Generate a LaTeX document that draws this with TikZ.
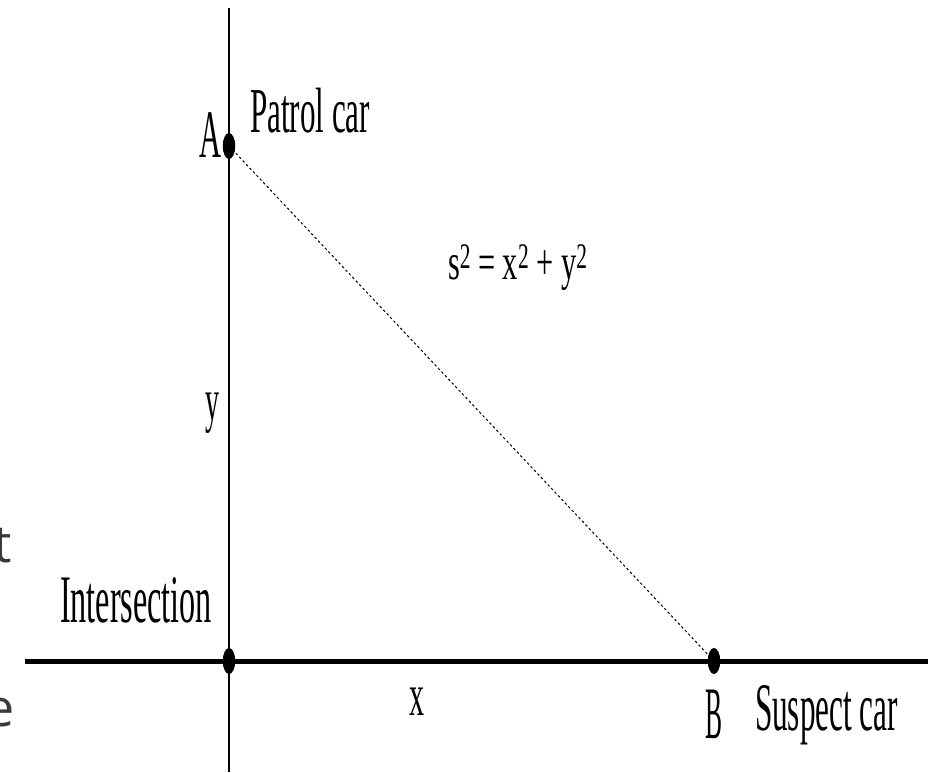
\documentclass[tikz,border=0pt]{standalone}
\usepackage{fontspec}
\usepackage{graphicx}
\usetikzlibrary{shapes.geometric}
\setmainfont{Liberation Serif}
\newfontfamily\slidefont{Open Sans}
\newcommand\fitw[2]{\resizebox{#1pt}{\height}{#2}}
\newcommand\fsz[1]{\fontsize{#1}{#1}\selectfont}
\newcommand\sqr{\raisebox{11pt}{\fsz{36}2}}
\definecolor{slidegray}{HTML}{3A3A3A}
\tikzset{
  dot/.style={ellipse, fill=black, inner sep=0pt, minimum width=12.5pt, minimum height=26pt},
  lbl/.style={inner sep=0pt, outer sep=0pt, text=black},
  axisv/.style={line width=2.5pt, black},
  axish/.style={line width=5pt, black},
  hyp/.style={line width=1pt, black, dash pattern=on 2.5pt off 2.5pt},
}
\begin{document}
\begin{tikzpicture}[x=1pt,y=-1pt]
\useasboundingbox (0,0) rectangle (938,772);
\fill[white] (0,0) rectangle (938,772);
% fragments of slide text, cut by the left edge as in the reference
\begin{scope}
\clip (0,0) rectangle (938,772);
\node[lbl, anchor=base east, text=slidegray] (fragt) at (12,562) {\slidefont\fsz{52}t};
\node[lbl, anchor=base east, text=slidegray] (frage) at (15,726) {\slidefont\fsz{52}e};
\end{scope}
% axes
\coordinate (vtop) at (229,8);
\coordinate (vbot) at (229,772);
\coordinate (hleft) at (25,661);
\coordinate (hright) at (928,661);
\draw[axisv] (vtop) -- (vbot);
\draw[axish] (hleft) -- (hright);
% points
\node[dot] (A) at (229,146) {};
\node[dot] (O) at (229,661) {};
\node[dot] (B) at (714,661) {};
\draw[hyp] (A.center) -- (B.center);
% labels
\node[lbl, anchor=base east] (Alab) at (221,157) {\fsz{68}\fitw{22}{A}};
\node[lbl, anchor=base west] (patrol) at (250,132) {\fsz{64}\fitw{120}{Patrol car}};
\node[lbl, anchor=base west] (formula) at (448,279) {\fsz{51}\fitw{139}{s\sqr{} = x\sqr{} + y\sqr}};
\node[lbl, anchor=base west] (ylab) at (205,420) {\fsz{60}\fitw{14}{y}};
\node[lbl, anchor=base west] (inter) at (60,622) {\fsz{68}\fitw{152}{Intersection}};
\node[lbl, anchor=base west] (xlab) at (409,715) {\fsz{60}\fitw{15}{x}};
\node[lbl, anchor=base west] (Blab) at (705,738) {\fsz{74}\fitw{17}{B}};
\node[lbl, anchor=base west] (suspect) at (755,730) {\fsz{68}\fitw{143}{Suspect car}};
\end{tikzpicture}
\end{document}
